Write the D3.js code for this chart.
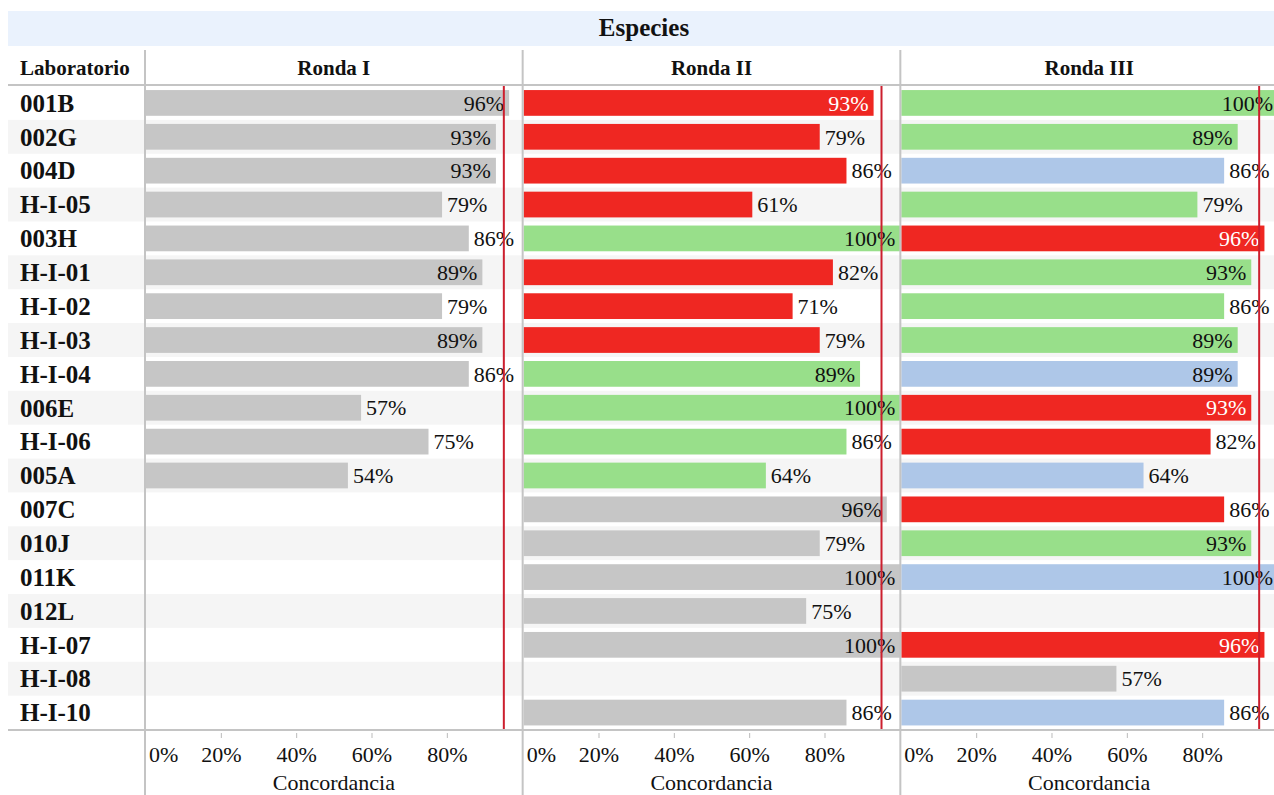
<!DOCTYPE html>
<html>
<head>
<meta charset="utf-8">
<script src="https://cdn.jsdelivr.net/npm/d3@7"></script>
<style>
  body { margin: 0; background: #fff; }
  svg text { font-family: "Liberation Serif", "Times New Roman", serif; fill: #111; }
</style>
</head>
<body>
<div id="chart"></div>
<script>
// datos
const laboratorios = ["001B", "002G", "004D", "H-I-05", "003H", "H-I-01", "H-I-02", "H-I-03", "H-I-04",
  "006E", "H-I-06", "005A", "007C", "010J", "011K", "012L", "H-I-07", "H-I-08", "H-I-10"];
const rondas = ["Ronda I", "Ronda II", "Ronda III"];

// concordancia (%) por ronda, null = sin participacion
const rondaI = [96.4, 92.9, 92.9, 78.6, 85.7, 89.3, 78.6, 89.3, 85.7, 57.1, 75.0, 53.6,
  null, null, null, null, null, null, null];
const rondaII = [92.9, 78.6, 85.7, 60.7, 100, 82.1, 71.4, 78.6, 89.3, 100, 85.7, 64.3,
  96.4, 78.6, 100, 75.0, 100, null, 85.7];
const rondaIII = [100, 89.3, 85.7, 78.6, 96.4, 92.9, 85.7, 89.3, 89.3, 92.9, 82.1, 64.3,
  85.7, 92.9, 100, null, 96.4, 57.1, 85.7];

// categoria de color de cada barra
const estadoI = ["gris", "gris", "gris", "gris", "gris", "gris", "gris", "gris", "gris", "gris", "gris", "gris",
  null, null, null, null, null, null, null];
const estadoII = ["rojo", "rojo", "rojo", "rojo", "verde", "rojo", "rojo", "rojo", "verde", "verde", "verde", "verde",
  "gris", "gris", "gris", "gris", "gris", null, "gris"];
const estadoIII = ["verde", "verde", "azul", "verde", "rojo", "verde", "verde", "verde", "azul", "rojo", "rojo", "azul",
  "rojo", "verde", "azul", null, "rojo", "gris", "azul"];

const referencia = 95;
const ticks = [0, 20, 40, 60, 80];

const w = 1274, h = 795;
const svg = d3.select("#chart").append("svg")
  .attr("width", w).attr("height", h);

const valores = [rondaI, rondaII, rondaIII];
const estados = [estadoI, estadoII, estadoIII];

const color = d3.scaleOrdinal()
  .domain(["gris", "rojo", "verde", "azul"])
  .range(["#c6c6c6", "#ef2722", "#98df8a", "#aec7e8"]);

// paneles y filas
const xPanel = d3.scaleBand().domain(rondas).range([145, 1278]);
const pw = xPanel.bandwidth();
const x = d3.scaleLinear().domain([0, 100]).range([1, pw]);
const y = d3.scaleBand().domain(laboratorios).range([86, 729.5]);
const fmt = d3.format(".0%");

// titulo
svg.append("rect").attr("x", 8).attr("y", 11).attr("width", w).attr("height", 35)
  .attr("fill", "#eaf2fd");
svg.append("text").attr("x", 644).attr("y", 36)
  .attr("text-anchor", "middle").attr("font-weight", "bold").attr("font-size", 25)
  .text("Especies");

// fondo de filas alternas
svg.append("g").selectAll("rect")
  .data(laboratorios.filter((d, i) => i % 2 == 1))
  .enter().append("rect")
  .attr("x", 8).attr("y", d => y(d))
  .attr("width", w - 8).attr("height", y.bandwidth())
  .attr("fill", "#f5f5f5");

// encabezados
svg.append("text").attr("x", 20).attr("y", 75)
  .attr("font-weight", "bold").attr("font-size", 21).text("Laboratorio");
svg.append("g").selectAll("text").data(rondas).enter().append("text")
  .attr("x", d => xPanel(d) + pw / 2).attr("y", 75)
  .attr("text-anchor", "middle").attr("font-weight", "bold").attr("font-size", 21)
  .text(d => d);

// nombres de laboratorio
svg.append("g").selectAll("text").data(laboratorios).enter().append("text")
  .attr("x", 20).attr("y", d => y(d) + y.bandwidth() / 2)
  .attr("dy", "0.35em")
  .attr("font-weight", "bold").attr("font-size", 25)
  .text(d => d);

// barras por panel
rondas.forEach((r, k) => {
  const g = svg.append("g").attr("transform", "translate(" + xPanel(r) + ",0)");
  const filas = laboratorios.map((lab, i) => ({ lab: lab, v: valores[k][i], e: estados[k][i] }))
    .filter(d => d.v != null);

  g.selectAll("rect").data(filas).enter().append("rect")
    .attr("x", x(0))
    .attr("y", d => y(d.lab) + y.bandwidth() * 0.12)
    .attr("width", d => x(d.v) - x(0))
    .attr("height", y.bandwidth() * 0.76)
    .attr("fill", d => color(d.e));

  const lbl = g.selectAll("text.val").data(filas).enter().append("text")
    .attr("class", "val")
    .attr("y", d => y(d.lab) + y.bandwidth() / 2)
    .attr("dy", "0.35em")
    .attr("font-size", 22)
    .text(d => fmt(d.v / 100));

  // etiqueta fuera de la barra si cabe, si no dentro
  lbl.each(function (d) {
    const tw = this.getComputedTextLength();
    const fuera = x(d.v) + 5 + tw < pw - 4;
    d3.select(this)
      .attr("x", fuera ? x(d.v) + 5 : x(d.v) - 5)
      .attr("text-anchor", fuera ? "start" : "end")
      .style("fill", (!fuera && d.e == "rojo") ? "#fff" : "#111");
  });

  // linea de referencia
  g.append("line")
    .attr("x1", x(referencia)).attr("x2", x(referencia))
    .attr("y1", 86).attr("y2", 729.5)
    .attr("stroke", "#cc1f2e").attr("stroke-width", 2);

  // eje
  const ax = g.append("g");
  ax.selectAll("line").data(ticks.filter(t => t > 0)).enter().append("line")
    .attr("x1", d => x(d)).attr("x2", d => x(d))
    .attr("y1", 733).attr("y2", 738)
    .attr("stroke", "#bbb").attr("stroke-width", 1);
  ax.selectAll("text").data(ticks).enter().append("text")
    .attr("x", d => d == 0 ? 4 : x(d))
    .attr("y", 762)
    .attr("text-anchor", d => d == 0 ? "start" : "middle")
    .attr("font-size", 22)
    .text(d => fmt(d / 100));
  ax.append("text").attr("x", pw / 2).attr("y", 790)
    .attr("text-anchor", "middle").attr("font-size", 22)
    .text("Concordancia");
});

// lineas de la tabla
svg.append("line").attr("x1", 8).attr("x2", w).attr("y1", 85).attr("y2", 85)
  .attr("stroke", "#c4c4c4").attr("stroke-width", 2);
svg.append("line").attr("x1", 8).attr("x2", w).attr("y1", 730).attr("y2", 730)
  .attr("stroke", "#c4c4c4").attr("stroke-width", 2);
svg.append("g").selectAll("line").data(rondas).enter().append("line")
  .attr("x1", d => xPanel(d)).attr("x2", d => xPanel(d))
  .attr("y1", 50).attr("y2", h)
  .attr("stroke", "#c4c4c4").attr("stroke-width", 2);
</script>
</body>
</html>
